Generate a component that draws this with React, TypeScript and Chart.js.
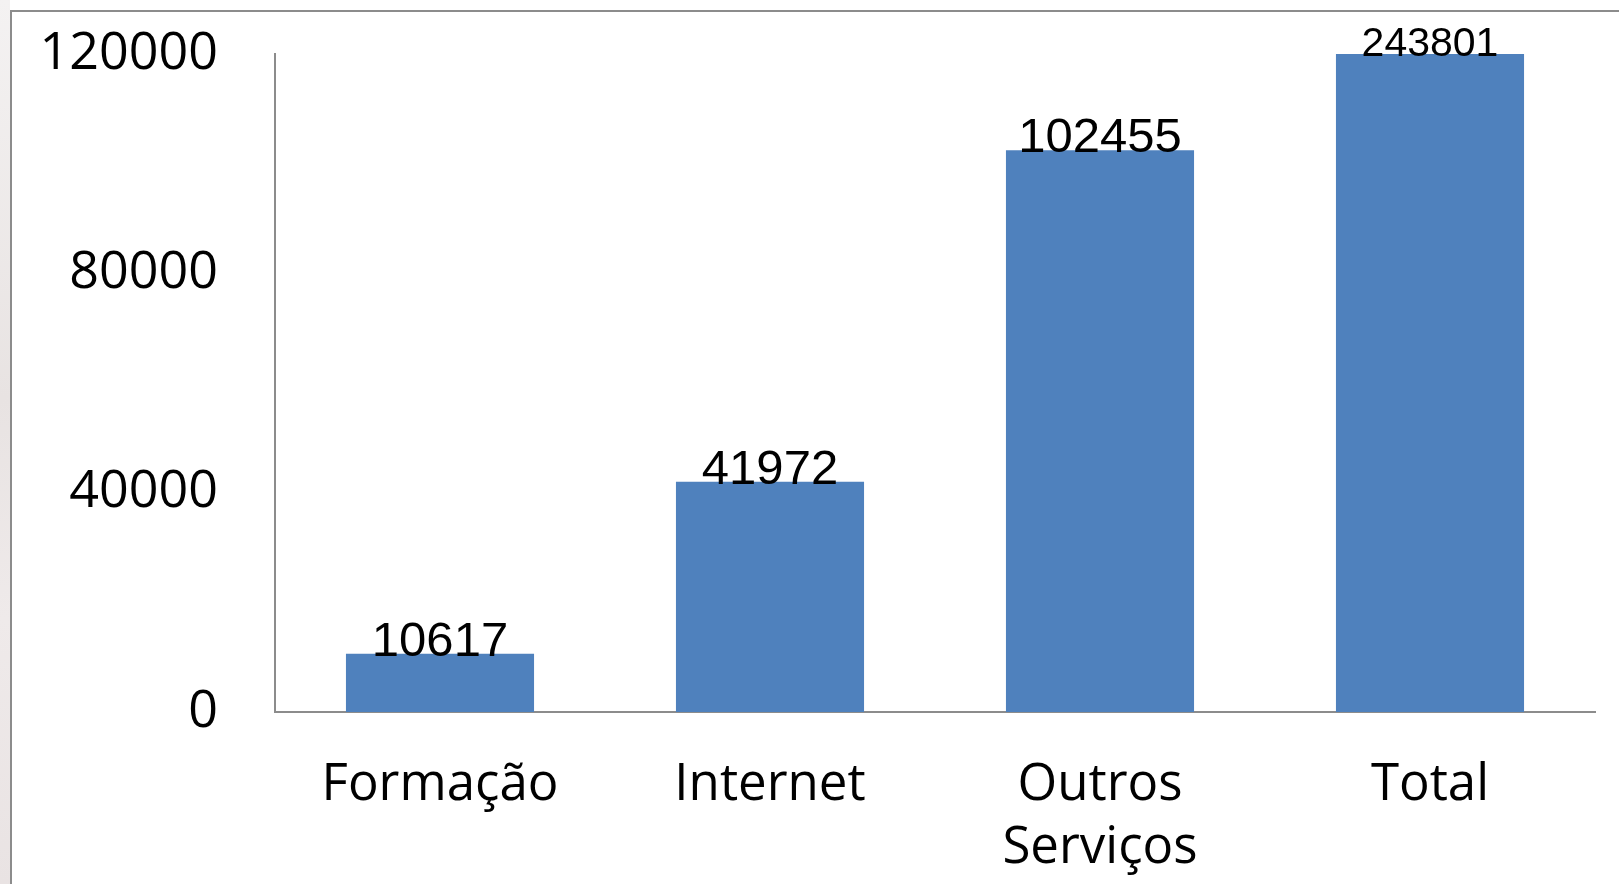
import React, { useEffect, useRef } from "react";
import { Chart, registerables } from "chart.js";

Chart.register(...registerables);

const categories: string[][] = [["Formação"], ["Internet"], ["Outros", "Serviços"], ["Total"]];
const values: number[] = [10617, 41972, 102455, 243801];
const yMin = 0;
const yMax = 120000;
const yStep = 40000;

const valueLabels = {
  id: "valueLabels",
  afterDatasetsDraw(chart: any) {
    const ctx = chart.ctx;
    const meta = chart.getDatasetMeta(0);
    const yScale = chart.scales.y;
    ctx.save();
    ctx.fillStyle = "#000000";
    ctx.textAlign = "center";
    ctx.textBaseline = "alphabetic";
    meta.data.forEach((bar: any, i: number) => {
      const v = values[i];
      const clipped = v > yScale.max;
      ctx.font = `${clipped ? 41 : 49}px "Liberation Sans", Arial, sans-serif`;
      const y = Math.max(bar.y, chart.chartArea.top);
      ctx.fillText(String(v), bar.x, y + 2);
    });
    ctx.restore();
  },
};

export default function App() {
  const canvasRef = useRef<HTMLCanvasElement | null>(null);

  useEffect(() => {
    if (!canvasRef.current) return;
    const chart = new Chart(canvasRef.current, {
      type: "bar",
      data: {
        labels: categories,
        datasets: [
          {
            data: values,
            backgroundColor: "#4F81BD",
            borderWidth: 0,
            barPercentage: 0.57,
            categoryPercentage: 1,
          },
        ],
      },
      options: {
        animation: false,
        responsive: false,
        maintainAspectRatio: false,
        layout: { padding: { left: 0, top: 54, right: 24, bottom: 0 } },
        plugins: {
          legend: { display: false },
          tooltip: { enabled: false },
        },
        scales: {
          x: {
            grid: { display: false, drawTicks: false },
            border: { display: true, color: "#8c8c8c", width: 2 },
            ticks: {
              color: "#000000",
              padding: 42,
              maxRotation: 0,
              autoSkip: false,
              font: { family: '"Open Sans", sans-serif', size: 51, lineHeight: 1.24 },
            },
            afterFit(scale: any) {
              scale.height = 172;
              scale.paddingLeft = 0;
              scale.paddingRight = 0;
            },
          },
          y: {
            min: yMin,
            max: yMax,
            grid: { display: false, drawTicks: false },
            border: { display: true, color: "#8c8c8c", width: 2 },
            ticks: {
              stepSize: yStep,
              color: "#000000",
              padding: 57,
              font: { family: '"Open Sans", sans-serif', size: 52 },
              callback: (v: any) => String(v),
            },
            afterFit(scale: any) {
              scale.width = 275;
              scale.paddingTop = 0;
              scale.paddingBottom = 0;
            },
          },
        },
      },
      plugins: [valueLabels],
    });
    return () => chart.destroy();
  }, []);

  return (
    <div
      style={{
        position: "fixed",
        left: 0,
        top: 0,
        width: 1619,
        height: 884,
        overflow: "hidden",
        background: "#ffffff",
      }}
    >
      <div
        style={{
          position: "absolute",
          left: 0,
          top: 0,
          width: 10,
          height: 884,
          background: "linear-gradient(180deg, #f4f2f2 0%, #e8e3e2 45%, #efeaea 70%, #e9e3e3 100%)",
        }}
      />
      <div
        style={{
          position: "absolute",
          left: 10,
          top: 10,
          width: 1700,
          height: 1000,
          borderLeft: "2px solid #8c8c8c",
          borderTop: "2px solid #8c8c8c",
          background: "#ffffff",
        }}
      />
      <canvas
        ref={canvasRef}
        width={1619}
        height={884}
        style={{ position: "absolute", left: 0, top: 0, width: 1619, height: 884 }}
      />
    </div>
  );
}
